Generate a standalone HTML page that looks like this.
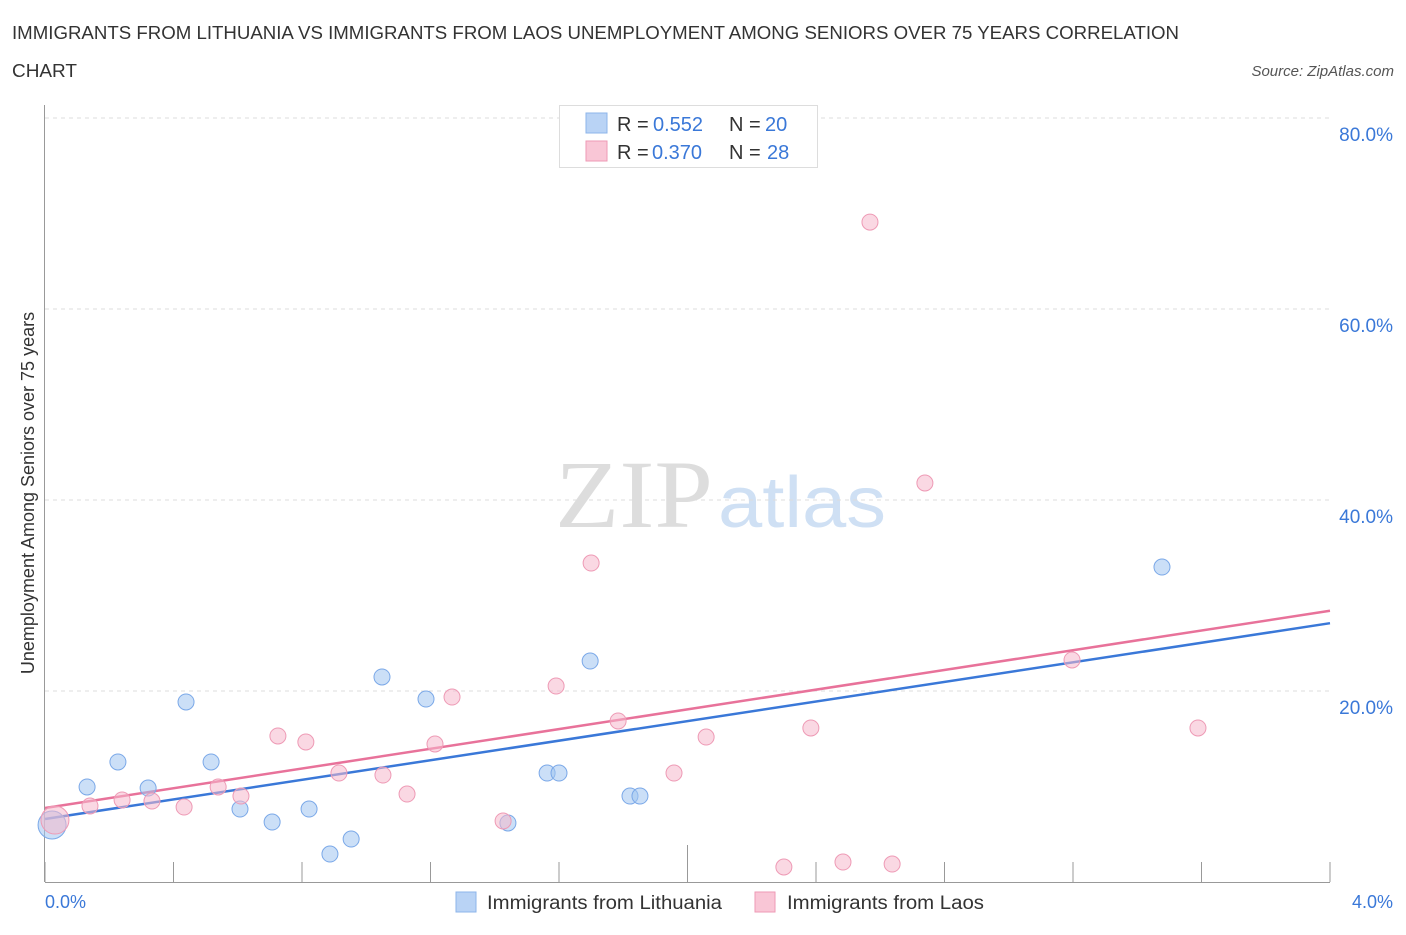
<!DOCTYPE html>
<html><head><meta charset="utf-8"><style>
body{margin:0;background:#fff;width:1406px;height:930px;overflow:hidden;font-family:"Liberation Sans",sans-serif}
</style></head><body>
<svg width="1406" height="930" xmlns="http://www.w3.org/2000/svg">
<text x="12" y="39" font-size="18" fill="#333" textLength="1167" lengthAdjust="spacingAndGlyphs">IMMIGRANTS FROM LITHUANIA VS IMMIGRANTS FROM LAOS UNEMPLOYMENT AMONG SENIORS OVER 75 YEARS CORRELATION</text>
<text x="12" y="77" font-size="18" fill="#333" textLength="65" lengthAdjust="spacingAndGlyphs">CHART</text>
<text x="1394" y="76" font-size="15" fill="#555" font-style="italic" text-anchor="end">Source: ZipAtlas.com</text>
<g>
<text x="555" y="527" font-size="96" fill="#ddd" font-family="Liberation Serif,serif" textLength="158" lengthAdjust="spacingAndGlyphs">ZIP</text>
<text x="718" y="527" font-size="72" fill="#cfe0f4" textLength="168" lengthAdjust="spacingAndGlyphs">atlas</text>
</g>
<g id="grid"></g><g id="axes"></g><g id="lines"></g><g id="pts"></g>
<text transform="translate(34,493) rotate(-90)" font-size="18" fill="#333" text-anchor="middle">Unemployment Among Seniors over 75 years</text>
<text x="45" y="908" font-size="18" fill="#3a78d8">0.0%</text>
<text x="1393" y="908" font-size="18" fill="#3a78d8" text-anchor="end">4.0%</text>
<g>
<rect x="559.5" y="105.5" width="258" height="62" fill="#fff" stroke="#ddd"/>
<rect x="586" y="113" width="21" height="20" fill="#b9d3f5" stroke="#8db4ea"/>
<rect x="586" y="141" width="21" height="20" fill="#f9c6d6" stroke="#ee9ab5"/>
<text x="617" y="131" font-size="20" fill="#333">R = <tspan x="653" fill="#3a78d8">0.552</tspan><tspan x="729">N = </tspan><tspan x="765" fill="#3a78d8">20</tspan></text>
<text x="617" y="159" font-size="20" fill="#333">R = <tspan x="652" fill="#3a78d8">0.370</tspan><tspan x="729">N = </tspan><tspan x="767" fill="#3a78d8">28</tspan></text>
</g>
<g>
<rect x="456" y="892" width="20" height="20" fill="#b9d3f5" stroke="#8db4ea"/>
<text x="487" y="909" font-size="19" fill="#333" textLength="235" lengthAdjust="spacingAndGlyphs">Immigrants from Lithuania</text>
<rect x="755" y="892" width="20" height="20" fill="#f9c6d6" stroke="#ee9ab5"/>
<text x="787" y="909" font-size="19" fill="#333" textLength="197" lengthAdjust="spacingAndGlyphs">Immigrants from Laos</text>
</g>
</svg>
<script>
const yTicks=[20,40,60,80];
const yTickLabels=["20.0%","40.0%","60.0%","80.0%"];
const xTicks=[0,0.4,0.8,1.2,1.6,2.0,2.4,2.8,3.2,3.6,4.0];
const blueX=[0.022,0.131,0.227,0.321,0.439,0.517,0.607,0.707,0.822,0.887,0.953,1.049,1.186,1.563,1.600,1.697,1.441,1.821,1.852,3.477];
const blueY=[5.97,9.95,12.57,9.84,18.85,12.57,7.64,6.28,7.64,2.93,4.50,21.47,19.16,11.41,11.41,23.14,6.18,9.0,9.0,32.98];
const pinkX=[0.031,0.140,0.240,0.333,0.433,0.539,0.610,0.725,0.812,0.915,1.052,1.127,1.214,1.267,1.426,1.591,1.700,1.784,1.958,2.058,2.300,2.384,2.484,2.568,2.637,2.739,3.197,3.589];
const pinkY=[6.49,7.96,8.59,8.48,7.85,9.95,9.0,15.29,14.66,11.41,11.2,9.21,14.45,19.37,6.39,20.52,33.4,16.86,11.41,15.18,1.57,16.13,2.09,69.1,1.88,41.78,23.25,16.13];
const blueTrend=[6.6,27.1];
const pinkTrend=[7.75,28.4];
const NS="http://www.w3.org/2000/svg";
const X=v=>45+v/4*1285, Y=v=>882-v/20*191;
function mk(tag,attrs,parent){const e=document.createElementNS(NS,tag);for(const k in attrs)e.setAttribute(k,attrs[k]);document.getElementById(parent).appendChild(e);return e;}
yTicks.forEach((t,i)=>{
 const l=mk('line',{x1:45,x2:1330,y1:Y(t),y2:Y(t),stroke:'#ddd','stroke-dasharray':'4,4'},'grid');
 
 
 const tx=mk('text',{x:1393,y:Y(t)+23,'font-size':19,fill:'#3a78d8','text-anchor':'end'},'grid');
 tx.textContent=yTickLabels[i];
 
 
});
const ax=mk('line',{x1:45,x2:1330,y1:882.5,y2:882.5,stroke:'#999'},'axes');


const ay=mk('line',{x1:44.5,x2:44.5,y1:105,y2:882,stroke:'#999'},'axes');


xTicks.forEach((t,i)=>{
 const l=mk('line',{x1:X(t),x2:X(t),y1:(i==5?845:862),y2:882,stroke:'#999'},'axes');
 
 
});
function trend(tr,color,name){
 const l=mk('line',{x1:X(0),y1:Y(tr[0]),x2:X(4),y2:Y(tr[1]),stroke:color,'stroke-width':2.5},'lines');
 
 
}
trend(blueTrend,'#3a78d8','trend-line-lithuania');
trend(pinkTrend,'#e8729a','trend-line-laos');
function pts(xs,ys,fill,stroke,name){
 xs.forEach((x,i)=>{
  const c=mk('circle',{cx:X(x),cy:Y(ys[i]),r:i==0?14:8,fill:fill,stroke:stroke,'stroke-width':1},'pts');
  
  
 });
}
pts(blueX,blueY,'rgba(160,196,240,0.55)','#7aa8e8','point-lithuania');
pts(pinkX,pinkY,'rgba(246,184,204,0.55)','#ee9ab5','point-laos');
</script>
</body></html>
